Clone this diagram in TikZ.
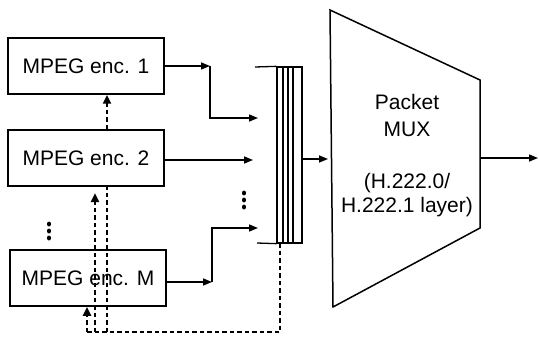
\documentclass[tikz,border=0pt]{standalone}
\usepackage{fontspec}
\setmainfont{Liberation Sans}
\usetikzlibrary{arrows.meta}
\begin{document}
\begin{tikzpicture}[x=1pt,y=-1pt,
  txt/.style={font=\fontsize{21}{25}\selectfont},
  encbox/.style={draw, line width=1.5pt, minimum width=156pt, minimum height=56pt, inner sep=0pt, txt},
  arr/.style={line width=1.5pt, -{Triangle[length=9pt,width=7pt]}},
  dsh/.style={line width=2.6pt, dash pattern=on 4.5pt off 3pt},
  darr/.style={dsh, -{Triangle[length=9pt,width=8pt]}},
  dotmark/.style={fill=black}]
\useasboundingbox (0,0) rectangle (539,337);

% dashed control lines
\coordinate (bufb) at (280,243);
\coordinate (dc) at (280,332);
\coordinate (dM) at (87,332);
\coordinate (d2) at (95,332);
\coordinate (d2t) at (95,193);
\coordinate (d1) at (107,332);

% encoder boxes
\node[encbox] (e1) at (86,66) {MPEG enc. 1};
\node[encbox, fill=white] (e2) at (86,158) {MPEG enc. 2};
\node[encbox] (eM) at (88,278) {MPEG enc. M};

\draw[dsh] (bufb) -- (dc) -- (dM);
\draw[darr] (dM) -- (dM |- eM.south);
\draw[darr] (d2) -- (d2t);
\draw[dsh] (d1) -- (d1 |- e2.south);
\draw[darr] (d1 |- e2.north) -- (d1 |- e1.south);

% outputs of encoders
\coordinate (k1) at (210,66);
\coordinate (t1) at (258,118);
\coordinate (t2) at (253,160);
\coordinate (kM) at (212,282);
\coordinate (tM) at (258,228);
\draw[arr] (e1.east) -- (k1);
\draw[arr] (k1) |- (t1);
\draw[arr] (e2.east |- t2) -- (t2);
\draw[arr] (eM.east |- kM) -- (kM);
\draw[arr] (kM) |- (tM);

% vertical ellipses
\foreach \y in {193,200,207} \fill[dotmark] (244,\y) ellipse (2pt and 2.5pt);
\foreach \y in {224,231,238} \fill[dotmark] (49,\y) ellipse (2pt and 2.5pt);

% buffer
\node[draw, line width=1.3pt, minimum width=25pt, minimum height=176pt, inner sep=0pt] (buf) at (289.5,155) {};
\draw[line width=1.3pt] (255,67) -- (buf.north west);
\draw[line width=1.3pt] (257,243) -- (buf.south west);
\foreach \x in {283,288,293} \draw[line width=1.3pt] (\x,67) -- (\x,243);

% packet mux trapezoid
\coordinate (m1) at (330,10);
\coordinate (m2) at (480,80);
\coordinate (m3) at (480,228);
\coordinate (m4) at (333,307);
\draw[line width=1.5pt, line join=miter] (m1) -- (m2) -- (m3) -- (m4) -- cycle;
\node[txt, anchor=base] (p1) at (407,110) {Packet};
\node[txt, anchor=base] (p2) at (407,137) {MUX};
\node[txt, anchor=base] (p3) at (407,189) {(H.222.0/};
\node[txt, anchor=base] (p4) at (407,212) {H.222.1 layer)};

\coordinate (bo) at (302,159);
\coordinate (mi) at (328,159);
\draw[arr] (bo) -- (mi);
\coordinate (mo) at (480,158);
\coordinate (out) at (538,158);
\draw[arr] (mo) -- (out);
\end{tikzpicture}
\end{document}
